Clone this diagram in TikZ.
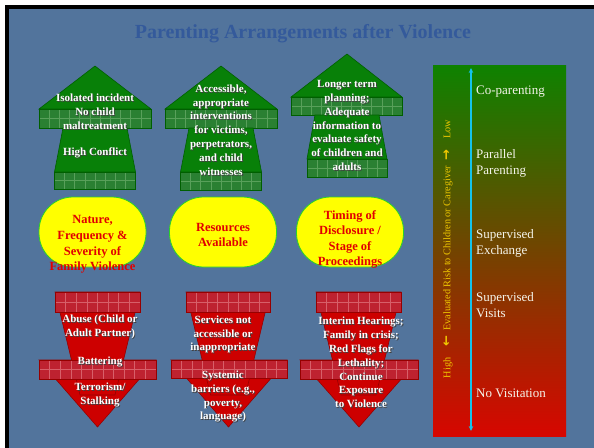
\documentclass[tikz,border=0pt]{standalone}
\usepackage{fontspec}
\setmainfont{Liberation Serif}
\newfontfamily\arrowfont{DejaVu Sans}
\usetikzlibrary{arrows.meta}
\definecolor{bgblue}{RGB}{82,116,156}
\definecolor{titleblue}{RGB}{52,90,155}
\definecolor{agreen}{RGB}{8,128,8}
\definecolor{agreenedge}{RGB}{0,95,0}
\definecolor{gbandfillc}{RGB}{42,128,50}
\definecolor{ggridc}{RGB}{88,160,90}
\definecolor{ared}{RGB}{205,0,0}
\definecolor{arededge}{RGB}{150,0,0}
\definecolor{rbandfillc}{RGB}{190,34,48}
\definecolor{rgridc}{RGB}{215,95,105}
\definecolor{ellyellow}{RGB}{255,255,0}
\definecolor{ellgreen}{RGB}{40,210,40}
\definecolor{elltext}{RGB}{225,0,0}
\definecolor{gradtop}{RGB}{14,130,0}
\definecolor{gradmid}{RGB}{150,92,0}
\definecolor{gradbot}{RGB}{215,6,0}
\definecolor{cyanarrow}{RGB}{20,195,235}
\definecolor{risktext}{RGB}{240,200,0}
\definecolor{paneltext}{RGB}{245,245,235}
\begin{document}
\begin{tikzpicture}[x=1pt,y=-1pt,
  gbandfill/.style={fill=gbandfillc},
  ggrid/.style={draw=ggridc,line width=0.6pt},
  gedge/.style={draw=agreenedge,line width=0.6pt},
  rbandfill/.style={fill=rbandfillc},
  rgrid/.style={draw=rgridc,line width=0.6pt},
  redge/.style={draw=arededge,line width=0.6pt},
  gshape/.style={fill=agreen,draw=agreenedge,line width=0.6pt},
  rshape/.style={fill=ared,draw=arededge,line width=0.6pt},
  wt/.style={text=white,align=center,inner sep=0pt,font=\fontsize{11}{13.8}\selectfont\bfseries},
  ellbox/.style={fill=ellyellow,draw=ellgreen,line width=0.8pt,rounded corners=34pt,minimum width=107pt,minimum height=70pt,inner sep=0pt},
  elltxt/.style={text=elltext,align=center,inner sep=0pt,font=\fontsize{12.5}{15.6}\selectfont\bfseries},
  paneltxt/.style={text=paneltext,align=left,anchor=west,inner sep=0pt,font=\fontsize{13}{16}\selectfont},
]
\newcommand\band[6]{%
  \fill[#5bandfill] (#1,#2) rectangle (#3,#4);
  \pgfmathsetmacro\bw{(#3-#1)/(#6+1)}
  \foreach \i in {1,...,#6} \draw[#5grid] ({#1+\i*\bw},#2) -- ({#1+\i*\bw},#4);
  \draw[#5grid] (#1,{(#2+#4)/2}) -- (#3,{(#2+#4)/2});
  \draw[#5edge] (#1,#2) rectangle (#3,#4);
}
\newcommand\shtext[3]{%
  \node[wt,text=black!75,xshift=0.9pt,yshift=-0.9pt] at (#1) {#3};
  \node[wt] (#2) at (#1) {#3};
}
% background
\useasboundingbox (0,0) rectangle (594,447);
\fill[white] (-5,-5) rectangle (600,452);
\fill[bgblue] (5,5) rectangle (600,452);
\fill[black] (5,5) rectangle (600,9);
\fill[black] (5,5) rectangle (9,452);
% title
\node[text=titleblue,font=\fontsize{20}{24}\selectfont\bfseries,inner sep=0pt] (title) at (303,34) {Parenting Arrangements after Violence};

% ---------- green up arrows ----------
% arrow 1
\fill[gshape] (95,66) -- (151,109) -- (39,109) -- cycle;
\band{39}{109}{151}{128}{g}{10}
\fill[gshape] (63,128) -- (127,128) -- (135.5,172) -- (54.5,172) -- cycle;
\band{54.5}{172}{135.5}{189}{g}{7}
% arrow 2
\fill[gshape] (221,66) -- (277,109) -- (165,109) -- cycle;
\band{165}{109}{277}{128}{g}{10}
\fill[gshape] (189,128) -- (253,128) -- (261.5,172) -- (180.5,172) -- cycle;
\band{180.5}{172}{261.5}{190}{g}{7}
% arrow 3
\fill[gshape] (347,54) -- (402,97) -- (291,97) -- cycle;
\band{291}{97}{402}{115}{g}{10}
\fill[gshape] (315,115) -- (379,115) -- (387,159) -- (307,159) -- cycle;
\band{307}{159}{387}{177}{g}{7}

\shtext{95,112}{g1a}{Isolated incident\\No child\\maltreatment}
\shtext{95,153}{g1b}{High Conflict}
\shtext{221,130}{g2}{Accessible,\\appropriate\\interventions\\for victims,\\perpetrators,\\and child\\witnesses}
\shtext{347,125.5}{g3}{Longer term\\planning;\\Adequate\\information to\\evaluate safety\\of children and\\adults}

% ---------- yellow boxes ----------
\node[ellbox] (e1) at (92.5,232) {};
\node[ellbox] (e2) at (223,232) {};
\node[ellbox] (e3) at (350,232) {};
\node[elltxt] (e1t) at (92.5,244.5) {Nature,\\Frequency \&\\Severity of\\Family Violence};
\node[elltxt] (e2t) at (223,235) {Resources\\Available};
\node[elltxt] (e3t) at (350,239.5) {Timing of\\Disclosure /\\Stage of\\Proceedings};

% ---------- red down arrows ----------
% arrow 1
\fill[rshape] (39,360) -- (156,360) -- (97.5,427) -- cycle;
\fill[rshape] (55,292) -- (140,292) -- (115,395) -- (80,395) -- cycle;
\band{55}{292}{140}{312}{r}{7}
\band{39}{360}{156}{379}{r}{10}
% arrow 2
\fill[rshape] (171,360) -- (287,360) -- (228.5,427) -- cycle;
\fill[rshape] (186,292) -- (270,292) -- (245.5,395) -- (210.5,395) -- cycle;
\band{186}{292}{270}{312}{r}{7}
\band{171}{360}{287}{378}{r}{10}
% arrow 3
\fill[rshape] (300,360) -- (418,360) -- (359,427) -- cycle;
\fill[rshape] (316,292) -- (401,292) -- (376,395) -- (341,395) -- cycle;
\band{316}{292}{401}{312}{r}{7}
\band{300}{360}{418}{379}{r}{10}

\shtext{100,327}{r1a}{Abuse (Child or\\Adult Partner)}
\shtext{100,362}{r1b}{Battering}
\shtext{100,395}{r1c}{Terrorism/\\Stalking}
\shtext{223,334.5}{r2a}{Services not\\accessible or\\inappropriate}
\shtext{223,396.5}{r2b}{Systemic\\barriers (e.g.,\\poverty,\\language)}
\shtext{361,362.5}{r3}{Interim Hearings;\\Family in crisis;\\Red Flags for\\Lethality;\\Continue\\Exposure\\to Violence}

% ---------- right panel ----------
\shade[top color=gradtop,middle color=gradmid,bottom color=gradbot] (433,65) rectangle (566,436);
\coordinate (atop) at (471,68);
\coordinate (abot) at (471,431);
\draw[cyanarrow,line width=1.3pt,{Stealth[length=5pt,width=4.5pt]}-{Stealth[length=5pt,width=4.5pt]}] (atop) -- (abot);
\node[paneltxt] (p1) at (476,92) {Co-parenting};
\node[paneltxt] (p2) at (476,163.5) {Parallel\\Parenting};
\node[paneltxt] (p3) at (476,243) {Supervised\\Exchange};
\node[paneltxt] (p4) at (476,305.5) {Supervised\\Visits};
\node[paneltxt] (p5) at (476,393) {No Visitation};
\node[text=risktext,rotate=90,inner sep=0pt,font=\fontsize{10.2}{12}\selectfont] (risk) at (448,249)
  {High\hspace{1.1em}{\arrowfont\bfseries\fontsize{13}{13}\selectfont ←}\hspace{0.5em}Evaluated Risk to Children or Caregiver\hspace{0.5em}{\arrowfont\bfseries\fontsize{13}{13}\selectfont →}\hspace{1.1em}Low};
\end{tikzpicture}
\end{document}
